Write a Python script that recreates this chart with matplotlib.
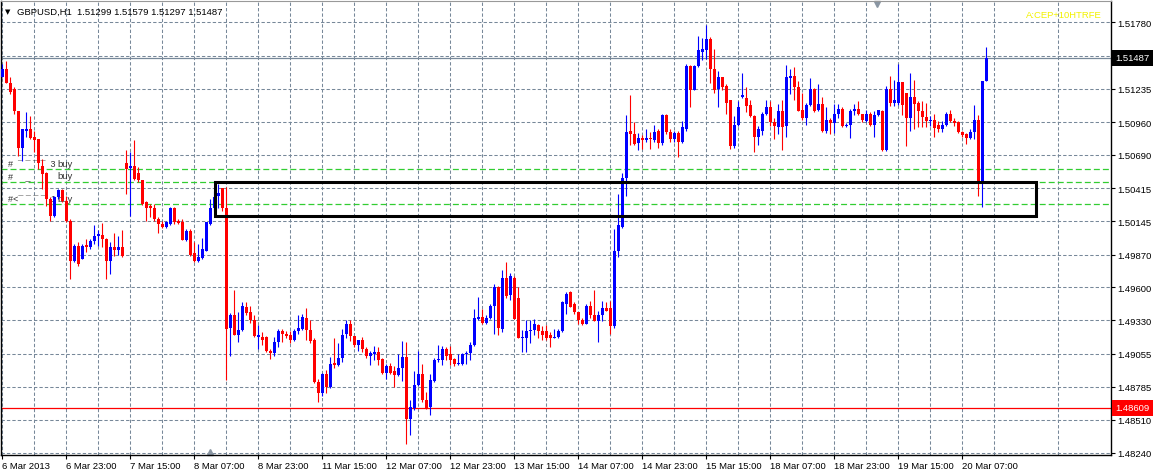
import numpy as np
import matplotlib
matplotlib.use('Agg')
import matplotlib.pyplot as plt
from matplotlib.patches import Rectangle

plt.rcParams['font.family'] = ['Liberation Sans', 'DejaVu Sans']
plt.rcParams['lines.scale_dashes'] = False

# GBPUSD H1 bars, 6 Mar 2013 07:00 .. 20 Mar 2013 13:00
opens = [
    1.5133, 1.5140, 1.5128, 1.5123, 1.5105, 1.5075, 1.5089, 1.5090, 1.5084, 1.5082,
    1.5060, 1.5054, 1.5033, 1.5019, 1.5034, 1.5040, 1.5031, 1.5015, 1.4982, 1.4994,
    1.4983, 1.4995, 1.4993, 1.4998, 1.5002, 1.5003, 1.5000, 1.4982, 1.4993, 1.4991,
    1.4993, 1.5062, 1.5058, 1.5060, 1.5054, 1.5048, 1.5030, 1.5027, 1.5025, 1.5016,
    1.5012, 1.5010, 1.5012, 1.5025, 1.5015, 1.5014, 1.4999, 1.5006, 1.4988, 1.4982,
    1.4984, 1.4990, 1.5012, 1.5025, 1.5035, 1.5042, 1.5025, 1.4927, 1.4937, 1.4921,
    1.4925, 1.4944, 1.4940, 1.4933, 1.4919, 1.4919, 1.4919, 1.4908, 1.4906, 1.4915,
    1.4924, 1.4922, 1.4921, 1.4917, 1.4924, 1.4926, 1.4935, 1.4925, 1.4917, 1.4882,
    1.4873, 1.4889, 1.4878, 1.4898, 1.4896, 1.4902, 1.4922, 1.4930, 1.4920, 1.4913,
    1.4917, 1.4909, 1.4904, 1.4905, 1.4907, 1.4901, 1.4890, 1.4895, 1.4891, 1.4888,
    1.4894, 1.4903, 1.4852, 1.4861, 1.4880, 1.4889, 1.4867, 1.4862, 1.4883, 1.4900,
    1.4900, 1.4909, 1.4905, 1.4901, 1.4897, 1.4897, 1.4905, 1.4906, 1.4913, 1.4934,
    1.4936, 1.4931, 1.4935, 1.4945, 1.4960, 1.4926, 1.4968, 1.4954, 1.4968, 1.4951,
    1.4918, 1.4918, 1.4924, 1.4925, 1.4929, 1.4924, 1.4924, 1.4921, 1.4918, 1.4919,
    1.4924, 1.4946, 1.4956, 1.4946, 1.4940, 1.4933, 1.4930, 1.4945, 1.4937, 1.4932,
    1.4937, 1.4943, 1.4943, 1.4928, 1.4990, 1.5010, 1.5050, 1.5089, 1.5086, 1.5079,
    1.5083, 1.5081, 1.5083, 1.5081, 1.5089, 1.5079, 1.5102, 1.5088, 1.5082, 1.5087,
    1.5080, 1.5090, 1.5142, 1.5122, 1.5142, 1.5154, 1.5155, 1.5164, 1.5140, 1.5123,
    1.5133, 1.5126, 1.5114, 1.5076, 1.5094, 1.5117, 1.5116, 1.5110, 1.5101, 1.5084,
    1.5089, 1.5103, 1.5108, 1.5096, 1.5092, 1.5105, 1.5093, 1.5132, 1.5134, 1.5125,
    1.5106, 1.5099, 1.5110, 1.5123, 1.5106, 1.5111, 1.5089, 1.5098, 1.5095, 1.5103,
    1.5107, 1.5093, 1.5094, 1.5105, 1.5107, 1.5103, 1.5097, 1.5103, 1.5094, 1.5102,
    1.5105, 1.5073, 1.5123, 1.5112, 1.5112, 1.5129, 1.5120, 1.5099, 1.5117, 1.5112,
    1.5105, 1.5100, 1.5097, 1.5098, 1.5094, 1.5090, 1.5094, 1.5103, 1.5097, 1.5096,
    1.5088, 1.5086, 1.5083, 1.5088, 1.5098, 1.5046, 1.51299,
]
highs = [
    1.5144, 1.5146, 1.5133, 1.5125, 1.5105, 1.5090, 1.5104, 1.5101, 1.5089, 1.5082,
    1.5066, 1.5055, 1.5034, 1.5035, 1.5041, 1.5041, 1.5035, 1.5016, 1.4996, 1.4997,
    1.4996, 1.5000, 1.5000, 1.5011, 1.5007, 1.5013, 1.5001, 1.4997, 1.5005, 1.5002,
    1.5007, 1.5073, 1.5071, 1.5081, 1.5059, 1.5048, 1.5031, 1.5029, 1.5029, 1.5018,
    1.5015, 1.5015, 1.5026, 1.5026, 1.5016, 1.5016, 1.5008, 1.5008, 1.4997, 1.4996,
    1.5001, 1.5014, 1.5033, 1.5039, 1.5045, 1.5042, 1.5043, 1.4939, 1.4958, 1.4940,
    1.4948, 1.4948, 1.4945, 1.4937, 1.4929, 1.4923, 1.4920, 1.4909, 1.4919, 1.4926,
    1.4926, 1.4924, 1.4924, 1.4926, 1.4937, 1.4938, 1.4943, 1.4933, 1.4918, 1.4885,
    1.4890, 1.4892, 1.4903, 1.4918, 1.4914, 1.4926, 1.4933, 1.4933, 1.4920, 1.4917,
    1.4919, 1.4911, 1.4908, 1.4912, 1.4911, 1.4902, 1.4897, 1.4898, 1.4895, 1.4905,
    1.4916, 1.4915, 1.4867, 1.4891, 1.4908, 1.4897, 1.4874, 1.4889, 1.4902, 1.4913,
    1.4912, 1.4911, 1.4912, 1.4902, 1.4905, 1.4906, 1.4908, 1.4915, 1.4942, 1.4952,
    1.4942, 1.4937, 1.4946, 1.4963, 1.4961, 1.4974, 1.4981, 1.4972, 1.4969, 1.4960,
    1.4925, 1.4933, 1.4933, 1.4934, 1.4930, 1.4928, 1.4929, 1.4923, 1.4926, 1.4926,
    1.4949, 1.4956, 1.4957, 1.4948, 1.4940, 1.4935, 1.4946, 1.4949, 1.4958, 1.4941,
    1.4949, 1.4948, 1.4949, 1.5008, 1.5037, 1.5054, 1.5102, 1.5118, 1.5096, 1.5087,
    1.5085, 1.5090, 1.5088, 1.5094, 1.5090, 1.5103, 1.5103, 1.5090, 1.5089, 1.5089,
    1.5097, 1.5144, 1.5143, 1.5143, 1.5167, 1.5165, 1.5176, 1.5166, 1.5156, 1.5138,
    1.5133, 1.5127, 1.5114, 1.5101, 1.5113, 1.5136, 1.5125, 1.5114, 1.5102, 1.5093,
    1.5104, 1.5114, 1.5113, 1.5099, 1.5111, 1.5114, 1.5143, 1.5140, 1.5141, 1.5130,
    1.5120, 1.5112, 1.5132, 1.5124, 1.5127, 1.5117, 1.5108, 1.5099, 1.5111, 1.5111,
    1.5108, 1.5095, 1.5107, 1.5111, 1.5113, 1.5103, 1.5106, 1.5104, 1.5105, 1.5106,
    1.5106, 1.5126, 1.5134, 1.5131, 1.5144, 1.5129, 1.5120, 1.5136, 1.5131, 1.5113,
    1.5113, 1.5112, 1.5101, 1.5103, 1.5097, 1.5097, 1.5104, 1.5106, 1.5099, 1.5097,
    1.5089, 1.5087, 1.5090, 1.5110, 1.5102, 1.5130, 1.51579,
]
lows = [
    1.5133, 1.5128, 1.5119, 1.5103, 1.5068, 1.5064, 1.5084, 1.5082, 1.5071, 1.5057,
    1.5041, 1.5027, 1.5015, 1.5018, 1.5033, 1.5030, 1.5014, 1.4967, 1.4981, 1.4978,
    1.4983, 1.4989, 1.4992, 1.4996, 1.4994, 1.4993, 1.4967, 1.4971, 1.4986, 1.4987,
    1.4985, 1.5037, 1.5019, 1.5048, 1.5047, 1.5028, 1.5015, 1.5018, 1.5015, 1.5005,
    1.5009, 1.5009, 1.5011, 1.5012, 1.5012, 1.4999, 1.4998, 1.4986, 1.4981, 1.4981,
    1.4983, 1.4990, 1.5011, 1.5023, 1.5025, 1.5023, 1.4884, 1.4904, 1.4921, 1.4915,
    1.4924, 1.4937, 1.4931, 1.4919, 1.4909, 1.4913, 1.4907, 1.4901, 1.4904, 1.4911,
    1.4915, 1.4918, 1.4914, 1.4916, 1.4922, 1.4925, 1.4917, 1.4914, 1.4881, 1.4866,
    1.4871, 1.4873, 1.4877, 1.4894, 1.4895, 1.4899, 1.4918, 1.4916, 1.4911, 1.4908,
    1.4907, 1.4902, 1.4896, 1.4900, 1.4896, 1.4889, 1.4885, 1.4889, 1.4878, 1.4887,
    1.4883, 1.4831, 1.4839, 1.4859, 1.4879, 1.4866, 1.4860, 1.4855, 1.4882, 1.4899,
    1.4896, 1.4900, 1.4896, 1.4895, 1.4896, 1.4896, 1.4897, 1.4900, 1.4912, 1.4933,
    1.4930, 1.4930, 1.4934, 1.4922, 1.4921, 1.4923, 1.4951, 1.4950, 1.4934, 1.4918,
    1.4907, 1.4907, 1.4914, 1.4921, 1.4918, 1.4917, 1.4917, 1.4911, 1.4918, 1.4918,
    1.4923, 1.4938, 1.4944, 1.4938, 1.4930, 1.4929, 1.4930, 1.4935, 1.4932, 1.4915,
    1.4932, 1.4941, 1.4922, 1.4927, 1.4985, 1.5009, 1.5035, 1.5077, 1.5077, 1.5073,
    1.5074, 1.5080, 1.5074, 1.5080, 1.5075, 1.5077, 1.5086, 1.5080, 1.5080, 1.5067,
    1.5079, 1.5089, 1.5108, 1.5122, 1.5141, 1.5147, 1.5148, 1.5128, 1.5120, 1.5108,
    1.5122, 1.5103, 1.5074, 1.5075, 1.5093, 1.5116, 1.5104, 1.5100, 1.5071, 1.5077,
    1.5085, 1.5102, 1.5093, 1.5082, 1.5086, 1.5073, 1.5084, 1.5119, 1.5114, 1.5105,
    1.5098, 1.5094, 1.5109, 1.5104, 1.5105, 1.5088, 1.5087, 1.5086, 1.5087, 1.5099,
    1.5092, 1.5092, 1.5083, 1.5102, 1.5102, 1.5096, 1.5096, 1.5093, 1.5084, 1.5101,
    1.5072, 1.5072, 1.5109, 1.5109, 1.5110, 1.5102, 1.5076, 1.5089, 1.5090, 1.5092,
    1.5092, 1.5092, 1.5093, 1.5084, 1.5088, 1.5088, 1.5093, 1.5096, 1.5093, 1.5087,
    1.5084, 1.5078, 1.5082, 1.5082, 1.5035, 1.5026, 1.51297,
]
closes = [
    1.5140, 1.5128, 1.5121, 1.5105, 1.5075, 1.5090, 1.5090, 1.5083, 1.5081, 1.5062,
    1.5053, 1.5033, 1.5019, 1.5034, 1.5040, 1.5031, 1.5015, 1.4982, 1.4994, 1.4979,
    1.4994, 1.4993, 1.4998, 1.5002, 1.5004, 1.5000, 1.4982, 1.4993, 1.4991, 1.4993,
    1.4986, 1.5057, 1.5060, 1.5049, 1.5048, 1.5029, 1.5025, 1.5025, 1.5016, 1.5012,
    1.5010, 1.5014, 1.5025, 1.5014, 1.5013, 1.4999, 1.5006, 1.4987, 1.4982, 1.4985,
    1.4992, 1.5014, 1.5025, 1.5034, 1.5038, 1.5025, 1.4926, 1.4937, 1.4921, 1.4925,
    1.4945, 1.4939, 1.4933, 1.4920, 1.4921, 1.4917, 1.4908, 1.4906, 1.4915, 1.4924,
    1.4922, 1.4920, 1.4917, 1.4924, 1.4927, 1.4936, 1.4925, 1.4916, 1.4882, 1.4873,
    1.4889, 1.4878, 1.4897, 1.4896, 1.4902, 1.4921, 1.4930, 1.4920, 1.4913, 1.4917,
    1.4909, 1.4904, 1.4906, 1.4907, 1.4900, 1.4890, 1.4895, 1.4890, 1.4888, 1.4894,
    1.4903, 1.4852, 1.4862, 1.4880, 1.4889, 1.4867, 1.4861, 1.4884, 1.4900, 1.4901,
    1.4909, 1.4904, 1.4900, 1.4897, 1.4898, 1.4905, 1.4906, 1.4913, 1.4935, 1.4936,
    1.4931, 1.4935, 1.4945, 1.4960, 1.4927, 1.4968, 1.4953, 1.4969, 1.4934, 1.4918,
    1.4919, 1.4924, 1.4925, 1.4930, 1.4924, 1.4921, 1.4918, 1.4918, 1.4919, 1.4924,
    1.4948, 1.4955, 1.4944, 1.4940, 1.4933, 1.4930, 1.4945, 1.4937, 1.4932, 1.4937,
    1.4943, 1.4941, 1.4928, 1.4990, 1.5011, 1.5050, 1.5088, 1.5086, 1.5078, 1.5083,
    1.5081, 1.5083, 1.5082, 1.5088, 1.5079, 1.5102, 1.5088, 1.5082, 1.5087, 1.5080,
    1.5092, 1.5142, 1.5122, 1.5142, 1.5155, 1.5156, 1.5164, 1.5140, 1.5122, 1.5133,
    1.5125, 1.5112, 1.5076, 1.5094, 1.5108, 1.5118, 1.5109, 1.5101, 1.5084, 1.5090,
    1.5103, 1.5108, 1.5096, 1.5093, 1.5105, 1.5092, 1.5133, 1.5134, 1.5125, 1.5105,
    1.5099, 1.5110, 1.5123, 1.5105, 1.5111, 1.5089, 1.5098, 1.5095, 1.5103, 1.5107,
    1.5093, 1.5094, 1.5105, 1.5107, 1.5103, 1.5098, 1.5103, 1.5094, 1.5102, 1.5106,
    1.5073, 1.5123, 1.5112, 1.5114, 1.5129, 1.5110, 1.5099, 1.5117, 1.5111, 1.5105,
    1.5100, 1.5097, 1.5098, 1.5091, 1.5090, 1.5094, 1.5103, 1.5097, 1.5095, 1.5088,
    1.5085, 1.5083, 1.5088, 1.5098, 1.5046, 1.5130, 1.51487,
]

date_labels = ['6 Mar 2013', '6 Mar 23:00', '7 Mar 15:00', '8 Mar 07:00', '8 Mar 23:00',
               '11 Mar 15:00', '12 Mar 07:00', '12 Mar 23:00', '13 Mar 15:00', '14 Mar 07:00',
               '14 Mar 23:00', '15 Mar 15:00', '18 Mar 07:00', '18 Mar 23:00', '19 Mar 15:00',
               '20 Mar 07:00']
price_ticks = [1.51780, 1.51505, 1.51235, 1.50960, 1.50690, 1.50415, 1.50145,
               1.49870, 1.49600, 1.49330, 1.49055, 1.48785, 1.48510, 1.48240]

bid = 1.51487
red_level = 1.48609
buy_levels = [1.5057, 1.5047, 1.5029]
box_bars = (53.1, 258.4)
box_prices = (1.50185, 1.50465)

o = np.array(opens)
h = np.array(highs)
l = np.array(lows)
c = np.array(closes)
x = np.arange(len(o))

fig = plt.figure(figsize=(11.55, 4.77), dpi=100)
ax = fig.add_axes([1 / 1155, 21 / 477, 1110 / 1155, 454 / 477])
ax.set_xlim(-0.325, 277.175)
ax.set_ylim(1.482217, 1.519558)

# candles
up = c >= o
cols = np.where(up, '#0000FF', '#FF0000')
ax.vlines(x, l, h, colors=cols, lw=0.8, zorder=3)
body_h = np.maximum(np.abs(c - o), 0.0001)
ax.bar(x, body_h, bottom=np.minimum(o, c), width=0.72, color=cols, linewidth=0, zorder=3)

# horizontal levels
ax.axhline(bid, color='#778899', lw=0.9, zorder=2)
ax.axhline(red_level, color='#FF0000', lw=0.9, zorder=2)
for lev in buy_levels:
    ax.axhline(lev, color='#32CD32', lw=0.9, linestyle=(0, (4.3, 2.2)), zorder=2)

rect = Rectangle((box_bars[0], box_prices[0]), box_bars[1] - box_bars[0],
                 box_prices[1] - box_prices[0], fill=False, ec='black', lw=2.2, zorder=5)
ax.add_patch(rect)

# order labels on the left
ax.text(1.4, 1.5062, '#  \u00af \u00af \u00af \u00af  3', fontsize=6.5, color='#333333', va='center', zorder=2)
ax.text(1.4, 1.5052, '#     _', fontsize=6.5, color='#333333', va='center', zorder=2)
ax.text(1.4, 1.5033, '#<\u00af \u00af \u00af \u00af  1', fontsize=6.5, color='#333333', va='center', zorder=2)
for yy in [1.5062, 1.5052, 1.5033]:
    ax.text(13.7, yy, 'buy', fontsize=6.8, color='#333333', va='center', zorder=2)

# ticks and grid
ax.set_xticks(range(0, 241, 16))
ax.set_xticklabels(date_labels, ha='left')
ax.set_xticks(range(8, 280, 16), minor=True)
ax.tick_params(axis='x', which='major', length=3, width=0.8, pad=1.5, labelsize=6.8)
ax.tick_params(axis='x', which='minor', length=0)
ax.yaxis.tick_right()
ax.set_yticks(price_ticks)
ax.set_yticklabels(['' if p == 1.51505 else f'{p:.5f}' for p in price_ticks])
ax.tick_params(axis='y', length=3, width=0.8, pad=1.5, labelsize=6.8)
ax.grid(True, which='both', color='#778899', lw=0.75, linestyle=(0, (2.4, 1.5)))
ax.set_axisbelow(True)
for s in ['left', 'right', 'bottom']:
    ax.spines[s].set_color('black')
    ax.spines[s].set_linewidth(1)
ax.spines['top'].set_color('#999999')

# price boxes on the right axis
ax.annotate(f'{bid:.5f}', xy=(1, bid), xycoords=('axes fraction', 'data'),
            xytext=(3, 0), textcoords='offset points', ha='left', va='center',
            fontsize=6.8, color='white', annotation_clip=False,
            bbox=dict(boxstyle='square,pad=0.35', fc='black', ec='none'))
ax.annotate(f'{red_level:.5f}', xy=(1, red_level), xycoords=('axes fraction', 'data'),
            xytext=(3, 0), textcoords='offset points', ha='left', va='center',
            fontsize=6.8, color='white', annotation_clip=False,
            bbox=dict(boxstyle='square,pad=0.35', fc='#FF0000', ec='none'))

# little shift markers
ax.plot([218.7], [0.993], marker='v', ms=5, color='#8a96a3', transform=ax.get_xaxis_transform(), clip_on=False)
ax.plot([51.8], [0.007], marker='^', ms=5, color='#8a96a3', transform=ax.get_xaxis_transform(), clip_on=False)

# header
fig.text(5 / 1155, 1 - 12 / 477, '\u25bc', fontsize=5, color='black', va='center', family='DejaVu Sans')
fig.text(17 / 1155, 1 - 12 / 477, 'GBPUSD,H1  1.51299 1.51579 1.51297 1.51487',
         fontsize=6.8, color='black', va='center')
fig.text(1026 / 1155, 1 - 16 / 477, 'A:CEP+10HTRFE', fontsize=6.8, color='#F2F200', va='center')

fig.savefig('out.png', dpi=100, facecolor='white')
